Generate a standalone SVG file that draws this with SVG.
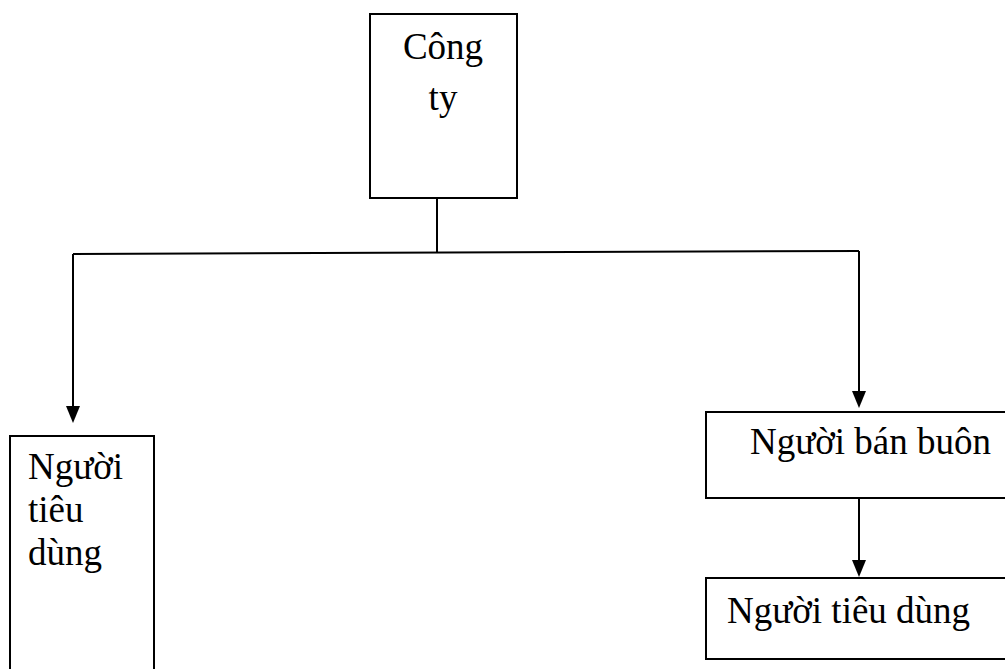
<svg xmlns="http://www.w3.org/2000/svg" width="1005" height="669" viewBox="0 0 1005 669">
<defs>
<style>
.box{fill:#fff;stroke:#000;stroke-width:2}
.t{font-family:"Liberation Serif","Times New Roman",serif;font-size:37px;fill:#000}
.c{fill:none;stroke:#000;stroke-width:2}
.ah{fill:#000}
</style>
</defs>
<rect width="1005" height="669" fill="#fff"/>
<g id="connectors">
<line class="c" x1="437" y1="198" x2="437" y2="253"/>
<line class="c" x1="73" y1="254" x2="859" y2="251"/>
<line class="c" x1="73" y1="254" x2="73" y2="408"/>
<path class="ah" d="M66,406 L80,406 L73,423 Z"/>
<line class="c" x1="859" y1="251" x2="859" y2="393"/>
<path class="ah" d="M852,391 L866,391 L859,408 Z"/>
<line class="c" x1="859" y1="498" x2="859" y2="562"/>
<path class="ah" d="M852,560 L866,560 L859,577 Z"/>
</g>
<g id="cong-ty">
<rect class="box" x="370" y="14" width="147" height="184"/>
<text class="t" x="443" y="59" text-anchor="middle">Công</text>
<text class="t" x="443" y="110" text-anchor="middle">ty</text>
</g>
<g id="nguoi-tieu-dung-1">
<rect class="box" x="10" y="436" width="144" height="250"/>
<text class="t" x="28" y="479">Người</text>
<text class="t" x="28" y="522">tiêu</text>
<text class="t" x="28" y="565">dùng</text>
</g>
<g id="nguoi-ban-buon">
<rect class="box" x="706" y="412" width="310" height="86"/>
<text class="t" x="750" y="454">Người bán buôn</text>
</g>
<g id="nguoi-tieu-dung-2">
<rect class="box" x="706" y="578" width="310" height="81"/>
<text class="t" x="727" y="623">Người tiêu dùng</text>
</g>
</svg>
